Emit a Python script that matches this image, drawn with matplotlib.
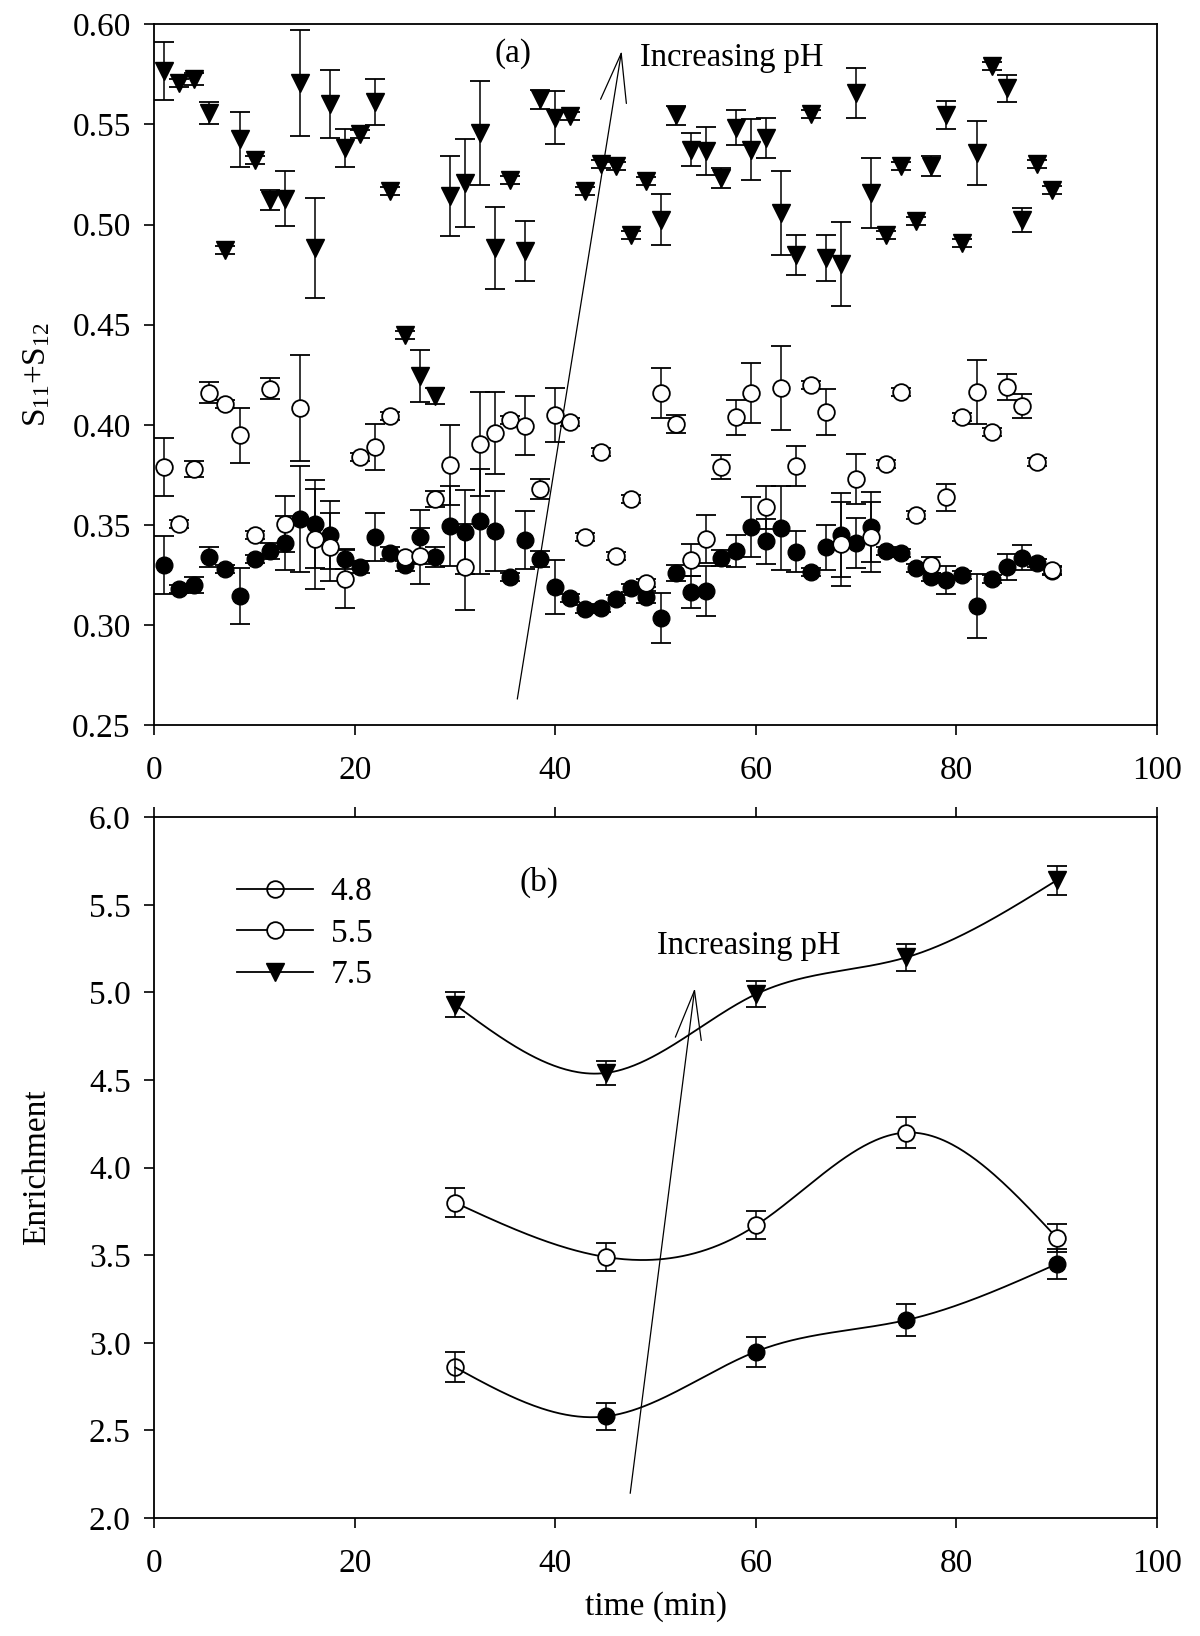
import numpy as np
import matplotlib
matplotlib.use("Agg")
import matplotlib.pyplot as plt
from matplotlib.lines import Line2D

plt.rcParams["font.family"] = ["Liberation Serif", "DejaVu Serif"]
plt.rcParams["mathtext.fontset"] = "custom"
plt.rcParams["mathtext.rm"] = "Liberation Serif"
plt.rcParams["mathtext.it"] = "Liberation Serif:italic"

# ---- panel (a): S11+S12 vs time ----
t_a = [1, 2.5, 4, 5.5, 7, 8.5, 10, 11.5, 13, 14.5, 16, 17.5, 19, 20.5, 22,
       23.5, 25, 26.5, 28, 29.5, 31, 32.5, 34, 35.5, 37, 38.5, 40, 41.5, 43, 44.5,
       46, 47.5, 49, 50.5, 52, 53.5, 55, 56.5, 58, 59.5, 61, 62.5, 64, 65.5, 67,
       68.5, 70, 71.5, 73, 74.5, 76, 77.5, 79, 80.5, 82, 83.5, 85, 86.5, 88, 89.5]

s_48 = [0.330, 0.318, 0.320, 0.334, 0.328, 0.3145, 0.333, 0.337, 0.341, 0.353,
        0.3505, 0.345, 0.333, 0.329, 0.344, 0.336, 0.330, 0.344, 0.334, 0.3495,
        0.3463, 0.3517, 0.347, 0.324, 0.3425, 0.333, 0.319, 0.3137, 0.308, 0.3083,
        0.313, 0.3183, 0.3142, 0.3037, 0.3258, 0.3163, 0.317, 0.3337, 0.337, 0.3488,
        0.3417, 0.3483, 0.3367, 0.3267, 0.3387, 0.345, 0.3408, 0.349, 0.337, 0.3358,
        0.3287, 0.3242, 0.3225, 0.325, 0.3095, 0.3228, 0.3288, 0.3337, 0.3308, 0.327]
s_48_err = [0.0145, 0.002, 0.004, 0.005, 0.002, 0.0138, 0.002, 0.004, 0.0135, 0.0265,
            0.022, 0.017, 0.005, 0.003, 0.012, 0.003, 0.003, 0.0135, 0.005, 0.02,
            0.021, 0.026, 0.02, 0.002, 0.0146, 0.004, 0.0133, 0.002, 0.002, 0.002,
            0.002, 0.002, 0.003, 0.0125, 0.004, 0.008, 0.0125, 0.004, 0.008, 0.015,
            0.011, 0.021, 0.01, 0.002, 0.011, 0.021, 0.0125, 0.0175, 0.002, 0.002,
            0.002, 0.002, 0.007, 0.002, 0.016, 0.002, 0.0065, 0.006, 0.002, 0.002]

s_55 = [0.379, 0.3505, 0.378, 0.416, 0.4105, 0.3947, 0.345, 0.418, 0.3505, 0.4083,
        0.3428, 0.339, 0.323, 0.3838, 0.3888, 0.4045, 0.334, 0.3345, 0.363, 0.380,
        0.329, 0.3905, 0.3958, 0.4025, 0.3995, 0.3678, 0.4047, 0.4012, 0.344, 0.3863,
        0.3345, 0.3628, 0.3208, 0.4158, 0.4003, 0.3325, 0.3428, 0.3787, 0.4038, 0.4158,
        0.3587, 0.4183, 0.3792, 0.4197, 0.4063, 0.3403, 0.373, 0.3438, 0.3803, 0.4163,
        0.3547, 0.330, 0.3637, 0.4037, 0.4162, 0.3963, 0.4187, 0.4092, 0.3812, 0.3275]
s_55_err = [0.0146, 0.002, 0.004, 0.0053, 0.002, 0.0138, 0.002, 0.0052, 0.0138, 0.0265,
            0.025, 0.017, 0.0145, 0.002, 0.0115, 0.002, 0.002, 0.014, 0.004, 0.02,
            0.0215, 0.026, 0.0205, 0.002, 0.0147, 0.005, 0.0135, 0.002, 0.002, 0.002,
            0.002, 0.002, 0.002, 0.0125, 0.0045, 0.008, 0.012, 0.006, 0.0087, 0.015,
            0.0107, 0.021, 0.01, 0.002, 0.0115, 0.021, 0.0125, 0.0175, 0.002, 0.002,
            0.002, 0.004, 0.0068, 0.002, 0.016, 0.002, 0.0065, 0.006, 0.002, 0.002]

s_75 = [0.5767, 0.5705, 0.5725, 0.5558, 0.4875, 0.5425, 0.5322, 0.5125, 0.513, 0.5708,
        0.4883, 0.560, 0.5383, 0.545, 0.5612, 0.5167, 0.445, 0.4242, 0.4142, 0.5142,
        0.5208, 0.5458, 0.4883, 0.5222, 0.4867, 0.5625, 0.5533, 0.5542, 0.5167, 0.5305,
        0.5292, 0.495, 0.5217, 0.5025, 0.5545, 0.5375, 0.5367, 0.5233, 0.5483, 0.5375,
        0.5433, 0.5058, 0.485, 0.555, 0.4833, 0.4805, 0.5655, 0.5158, 0.495, 0.5292,
        0.5017, 0.5292, 0.5545, 0.4908, 0.5358, 0.5792, 0.568, 0.5025, 0.5305, 0.5172]
s_75_err = [0.0146, 0.002, 0.003, 0.0055, 0.002, 0.0138, 0.002, 0.005, 0.0138, 0.0265,
            0.025, 0.017, 0.0096, 0.002, 0.0113, 0.002, 0.002, 0.013, 0.004, 0.02,
            0.022, 0.026, 0.0207, 0.002, 0.015, 0.0047, 0.0133, 0.002, 0.002, 0.002,
            0.002, 0.002, 0.002, 0.0127, 0.0047, 0.008, 0.012, 0.005, 0.0088, 0.015,
            0.01, 0.021, 0.01, 0.002, 0.0115, 0.021, 0.0125, 0.0175, 0.002, 0.002,
            0.002, 0.005, 0.007, 0.002, 0.016, 0.002, 0.0067, 0.006, 0.002, 0.002]

# ---- panel (b): enrichment vs time ----
t_b = [30, 45, 60, 75, 90]
e_48 = [2.86, 2.58, 2.95, 3.13, 3.45]
e_48_err = [0.085, 0.075, 0.086, 0.09, 0.085]
e_55 = [3.80, 3.49, 3.67, 4.20, 3.60]
e_55_err = [0.081, 0.078, 0.08, 0.09, 0.08]
e_75 = [4.93, 4.54, 4.99, 5.20, 5.64]
e_75_err = [0.072, 0.066, 0.073, 0.076, 0.084]
ph_labels = ["4.8", "5.5", "7.5"]


def spline(x, y, n=300):
    # natural cubic spline, for the smooth connecting lines
    x = np.asarray(x, float)
    y = np.asarray(y, float)
    h = np.diff(x)
    m = len(x)
    A = np.zeros((m, m))
    r = np.zeros(m)
    A[0, 0] = A[-1, -1] = 1
    for i in range(1, m - 1):
        A[i, i - 1] = h[i - 1]
        A[i, i] = 2 * (h[i - 1] + h[i])
        A[i, i + 1] = h[i]
        r[i] = 3 * ((y[i + 1] - y[i]) / h[i] - (y[i] - y[i - 1]) / h[i - 1])
    c = np.linalg.solve(A, r)
    b = (y[1:] - y[:-1]) / h - h * (2 * c[:-1] + c[1:]) / 3
    d = (c[1:] - c[:-1]) / (3 * h)
    xs = np.linspace(x[0], x[-1], n)
    idx = np.clip(np.searchsorted(x, xs) - 1, 0, m - 2)
    dx = xs - x[idx]
    return xs, y[idx] + b[idx] * dx + c[idx] * dx ** 2 + d[idx] * dx ** 3


fs = 24
eb = dict(ecolor="black", elinewidth=1.1, capsize=7.5, capthick=1.3, fmt="none", zorder=2)
arrow = dict(arrowstyle="->,head_length=1.75,head_width=0.47", lw=0.9,
             color="black", mutation_scale=20, shrinkA=0, shrinkB=0)

fig = plt.figure(figsize=(12, 16.36), dpi=100)
ax1 = fig.add_axes([0.1286, 0.5568, 0.8356, 0.4283])
ax2 = fig.add_axes([0.1286, 0.0721, 0.8356, 0.4284])

# panel (a)
ax1.errorbar(t_a, s_48, yerr=s_48_err, **eb)
ax1.plot(t_a, s_48, "o", ms=12, mfc="black", mec="black", zorder=3)
ax1.errorbar(t_a, s_55, yerr=s_55_err, **eb)
ax1.plot(t_a, s_55, "o", ms=12, mfc="white", mec="black", mew=1.3, zorder=4)
ax1.errorbar(t_a, s_75, yerr=s_75_err, **eb)
ax1.plot(t_a, s_75, "v", ms=13, mfc="black", mec="black", zorder=5)

ax1.set_xlim(0, 100)
ax1.set_ylim(0.25, 0.60)
ax1.set_xticks(np.arange(0, 101, 20))
ax1.set_yticks(np.arange(0.25, 0.601, 0.05))
ax1.set_yticklabels([f"{v:.2f}" for v in np.arange(0.25, 0.601, 0.05)])
ax1.set_ylabel(r"S$_{11}$+S$_{12}$", fontsize=fs)
ax1.yaxis.set_label_coords(-0.102, 0.5)
ax1.text(35.8, 0.5855, "(a)", fontsize=fs, ha="center", va="center")
ax1.text(48.4, 0.5792, "Increasing pH", fontsize=23.5, ha="left", va="baseline")
ax1.annotate("", xy=(46.6, 0.5867), xytext=(36.2, 0.263), arrowprops=arrow)

# panel (b)
for yv, ye in [(e_48, e_48_err), (e_55, e_55_err), (e_75, e_75_err)]:
    xs, ys = spline(t_b, yv)
    ax2.plot(xs, ys, color="black", lw=1.3, zorder=2)
    ax2.errorbar(t_b, yv, yerr=ye, **eb)
ax2.plot(t_b[1:], e_48[1:], "o", ms=12, mfc="black", mec="black", zorder=4)
ax2.plot(t_b[:1], e_48[:1], "o", ms=12, mfc="none", mec="black", mew=1.3, zorder=4)
ax2.plot(t_b, e_55, "o", ms=12, mfc="white", mec="black", mew=1.3, zorder=3)
ax2.plot(t_b, e_75, "v", ms=13, mfc="black", mec="black", zorder=4)

ax2.set_xlim(0, 100)
ax2.set_ylim(2.0, 6.0)
ax2.set_xticks(np.arange(0, 101, 20))
ax2.set_yticks(np.arange(2.0, 6.01, 0.5))
ax2.set_yticklabels([f"{v:.1f}" for v in np.arange(2.0, 6.01, 0.5)])
ax2.set_ylabel("Enrichment", fontsize=fs)
ax2.yaxis.set_label_coords(-0.102, 0.5)
ax2.set_xlabel("time (min)", fontsize=fs)
ax2.xaxis.set_label_coords(0.5, -0.105)
ax2.text(38.4, 5.63, "(b)", fontsize=fs, ha="center", va="center")
ax2.text(50.1, 5.22, "Increasing pH", fontsize=23.5, ha="left", va="baseline")
ax2.annotate("", xy=(53.9, 5.024), xytext=(47.46, 2.141), arrowprops=arrow)

handles = [Line2D([], [], color="black", lw=1.3, marker="o", ms=12, mfc="none", mec="black", mew=1.3),
           Line2D([], [], color="black", lw=1.3, marker="o", ms=12, mfc="white", mec="black", mew=1.3),
           Line2D([], [], color="black", lw=1.3, marker="v", ms=13, mfc="black", mec="black")]
ax2.legend(handles, ph_labels, loc="upper left", bbox_to_anchor=(0.082, 0.915),
           frameon=False, fontsize=fs, handlelength=2.3, handletextpad=0.52,
           labelspacing=0.33, borderpad=0, borderaxespad=0)

for ax in (ax1, ax2):
    for sp in ax.spines.values():
        sp.set_linewidth(1.3)
    ax.tick_params(direction="out", length=7, width=1.2, labelsize=fs,
                   right=False, top=False)
    ax.tick_params(axis="x", pad=15)
    ax.tick_params(axis="y", pad=10)
ax2.tick_params(axis="x", top=True, labeltop=False)

fig.savefig("out.png", dpi=100)
